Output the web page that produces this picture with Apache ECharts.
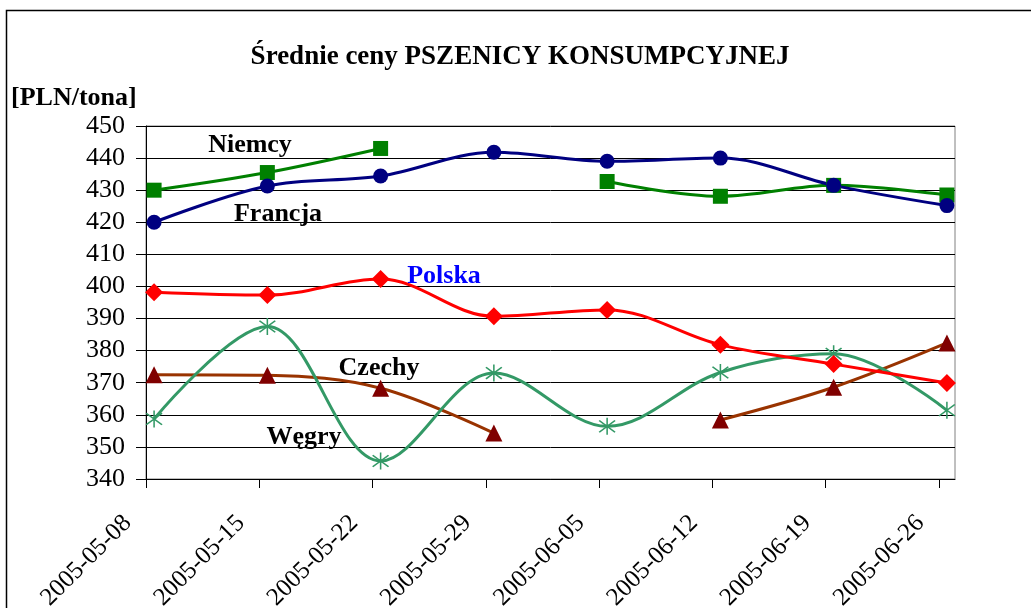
<!DOCTYPE html>
<html>
<head>
<meta charset="utf-8">
<script src="https://cdn.jsdelivr.net/npm/echarts@6/dist/echarts.min.js"></script>
<style>
  html, body { margin: 0; padding: 0; background: #fff; }
  #chart { width: 1031px; height: 608px; }
</style>
</head>
<body>
<div id="chart"></div>
<script>
// ---- data ----
const dates = ['2005-05-08', '2005-05-15', '2005-05-22', '2005-05-29', '2005-06-05', '2005-06-12', '2005-06-19', '2005-06-26'];
const niemcy  = [430.0, 435.5, 443.0, null, 432.7, 428.1, 431.5, 428.5];
const francja = [420.0, 431.3, 434.4, 441.8, 439.0, 440.0, 431.5, 425.2];
const polska  = [398.2, 397.3, 402.3, 390.7, 392.7, 381.8, 375.8, 369.9];
const czechy  = [358.7, 387.5, 345.6, 373.0, 356.4, 373.2, 379.0, 361.4];
const wegry   = [372.5, 372.3, 368.3, 354.3, null, 358.4, 368.6, 382.4];
const seriesNames = ['Niemcy', 'Francja', 'Polska', 'Czechy', 'Węgry'];
const yMin = 340, yMax = 450, yStep = 10;
const titleText = 'Średnie ceny PSZENICY KONSUMPCYJNEJ';
const unitText = '[PLN/tona]';

// ---- helpers ----
const DAY = 86400000;
function parseLocal(s) { const p = s.split('-').map(Number); return new Date(p[0], p[1] - 1, p[2]).getTime(); }
const t0 = parseLocal(dates[0]);
const dayOf = s => Math.round((parseLocal(s) - t0) / DAY);
const tickDays = dates.map(dayOf);
// Excel date axis: points sit in the middle of their day
const pts = arr => dates.map((d, i) => [dayOf(d) + 0.5, arr[i]]);
const labelForDay = v => { const i = tickDays.indexOf(Math.round(v)); return i >= 0 ? dates[i] : ''; };

const serif = '"Liberation Serif", "Times New Roman", serif';
const asterisk = 'path://M46,0L54,0L54,100L46,100Z M6,19L12,13L94,81L88,87Z M88,13L94,19L12,87L6,81Z';

function lineSeries(name, data, color, symbol, size, extra) {
  return Object.assign({
    name, type: 'line', data: pts(data), smooth: 0.35, connectNulls: false,
    symbol, symbolSize: size, showAllSymbol: true, clip: false,
    lineStyle: { color, width: 3 },
    itemStyle: { color },
    emphasis: { disabled: true },
    z: 3
  }, extra || {});
}

const chart = echarts.init(document.getElementById('chart'), null, { renderer: 'canvas' });
chart.setOption({
  animation: false,
  backgroundColor: '#ffffff',
  grid: { left: 146, right: 76, top: 126, bottom: 129, show: true, borderColor: '#808080', borderWidth: 1,
    containLabel: false, outerBoundsMode: 'none' },
  xAxis: {
    type: 'value', min: 0, max: tickDays[tickDays.length - 1] + 1,
    axisLine: { show: true, lineStyle: { color: '#000', width: 1 } },
    axisTick: { show: true, customValues: tickDays, length: 9, inside: false, lineStyle: { color: '#000' } },
    axisLabel: { customValues: tickDays, formatter: labelForDay, rotate: 45, margin: 22, padding: [0, 26, 0, 0],
      fontFamily: serif, fontSize: 25, color: '#000' },
    splitLine: { show: false }
  },
  yAxis: {
    type: 'value', min: yMin, max: yMax, interval: yStep,
    axisLine: { show: true, lineStyle: { color: '#000', width: 1 } },
    axisTick: { show: true, length: 10, lineStyle: { color: '#000' } },
    axisLabel: { fontFamily: serif, fontSize: 26, color: '#000', margin: 21 },
    splitLine: { show: true, lineStyle: { color: '#000', width: 1 } }
  },
  graphic: [
    { type: 'rect', shape: { x: 6.5, y: 10.5, width: 1200, height: 800 }, style: { fill: null, stroke: '#000', lineWidth: 1.5 }, silent: true, z: 0 },
    { type: 'text', x: 520, y: 57, style: { text: titleText, font: 'bold 27px ' + serif, fill: '#000', textAlign: 'center', textVerticalAlign: 'middle' }, z: 10 },
    { type: 'text', x: 11, y: 98, style: { text: unitText, font: 'bold 26px ' + serif, fill: '#000', textAlign: 'left', textVerticalAlign: 'middle' }, z: 10 },
    { type: 'text', x: 250, y: 145, style: { text: seriesNames[0], font: 'bold 26px ' + serif, fill: '#000', textAlign: 'center', textVerticalAlign: 'middle' }, z: 10 },
    { type: 'text', x: 278, y: 214, style: { text: seriesNames[1], font: 'bold 26px ' + serif, fill: '#000', textAlign: 'center', textVerticalAlign: 'middle' }, z: 10 },
    { type: 'text', x: 444, y: 276, style: { text: seriesNames[2], font: 'bold 26px ' + serif, fill: '#0000FF', textAlign: 'center', textVerticalAlign: 'middle' }, z: 10 },
    { type: 'text', x: 379, y: 368, style: { text: seriesNames[3], font: 'bold 26px ' + serif, fill: '#000', textAlign: 'center', textVerticalAlign: 'middle' }, z: 10 },
    { type: 'text', x: 304, y: 437, style: { text: seriesNames[4], font: 'bold 26px ' + serif, fill: '#000', textAlign: 'center', textVerticalAlign: 'middle' }, z: 10 }
  ],
  series: [
    lineSeries(seriesNames[4], wegry, '#993300', 'triangle', 17, { itemStyle: { color: '#800000' } }),
    lineSeries(seriesNames[3], czechy, '#339966', asterisk, 17, { itemStyle: { color: '#339966' } }),
    lineSeries(seriesNames[2], polska, '#FF0000', 'diamond', 18),
    lineSeries(seriesNames[0], niemcy, '#008000', 'rect', 15),
    lineSeries(seriesNames[1], francja, '#000080', 'circle', 15)
  ]
});
</script>
</body>
</html>
